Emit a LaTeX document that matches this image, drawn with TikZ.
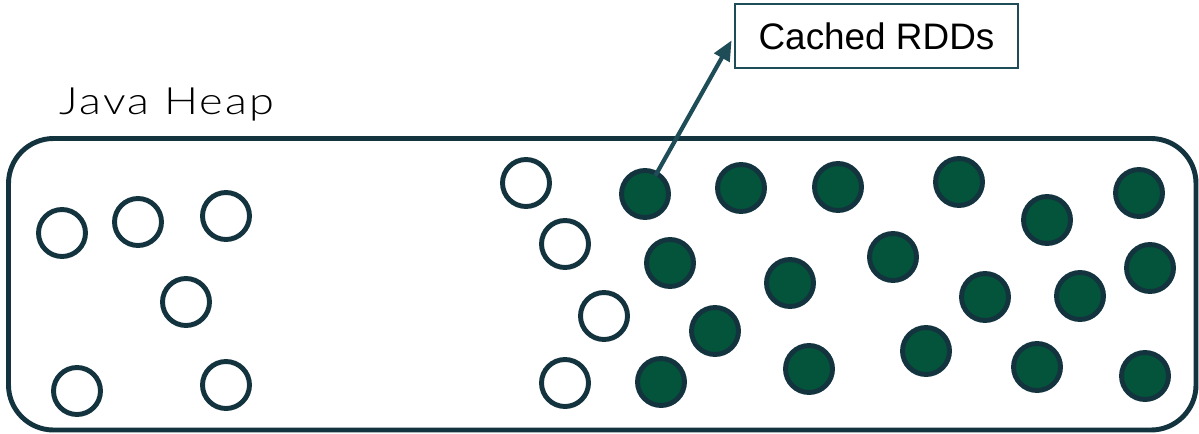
\documentclass[tikz,border=0pt]{standalone}
\usepackage{fontspec}
\setmainfont{Liberation Sans}
\newfontfamily\heapfont{Lato}[UprightFont={* Light},FakeStretch=1.2,LetterSpace=6]
\usetikzlibrary{arrows.meta}
\definecolor{heapline}{HTML}{13343F}
\definecolor{rddgreen}{HTML}{03543A}
\definecolor{tagline}{HTML}{1E4D58}

\begin{document}
\begin{tikzpicture}[x=0.02cm, y=-0.02cm, every node/.style={circle,draw=heapline,line width=2.8pt,minimum size=0.94cm,inner sep=0pt}]
		\useasboundingbox (0,0) rectangle (1199,433);
		\draw [heapline, line width=2.8pt, rounded corners=0.9cm] (8.5,138.5) rectangle (1196,430);
		\node [rectangle, draw=none, anchor=base west, font=\heapfont\fontsize{21.4}{26}\selectfont] (heap) at (57,114) {Java Heap};
		\node [rectangle, draw=tagline, line width=1.1pt, minimum width=5.66cm, minimum height=1.28cm, font=\fontsize{21}{25}\selectfont] (rdd) at (876.5,36) {Cached RDDs};
		
		\node (e1) at (62,233) {};
		\node (e2) at (138,222) {};
		\node (e3) at (226,216) {};
		\node (e4) at (186,302) {};
		\node (e5) at (77,391) {};
		\node (e6) at (226,385) {};
		\node (e7) at (526,183) {};
		\node (e8) at (565,244) {};
		\node (e9) at (604,316) {};
		\node (e10) at (565,383) {};
		
		\node [fill=rddgreen] (c1) at (645,194) {};
		\node [fill=rddgreen] (c2) at (741,188) {};
		\node [fill=rddgreen] (c3) at (838,187) {};
		\node [fill=rddgreen] (c4) at (959,182) {};
		\node [fill=rddgreen] (c5) at (1047,220) {};
		\node [fill=rddgreen] (c6) at (1139,193) {};
		\node [fill=rddgreen] (c7) at (670,263) {};
		\node [fill=rddgreen] (c8) at (790,283) {};
		\node [fill=rddgreen] (c9) at (893,257) {};
		\node [fill=rddgreen] (c10) at (985,297) {};
		\node [fill=rddgreen] (c11) at (1080,296) {};
		\node [fill=rddgreen] (c12) at (1150,268) {};
		\node [fill=rddgreen] (c13) at (715,331) {};
		\node [fill=rddgreen] (c14) at (926,351) {};
		\node [fill=rddgreen] (c15) at (661,382) {};
		\node [fill=rddgreen] (c16) at (1037,367) {};
		\node [fill=rddgreen] (c17) at (809,369) {};
		\node [fill=rddgreen] (c18) at (1145,376) {};
		
		\draw [tagline, line width=2.4pt, -{Triangle[length=0.4cm,width=0.34cm]}, shorten >=0.1cm, shorten <=-0.1cm] (c1) -- (rdd.west);
		\end{tikzpicture}
\end{document}
